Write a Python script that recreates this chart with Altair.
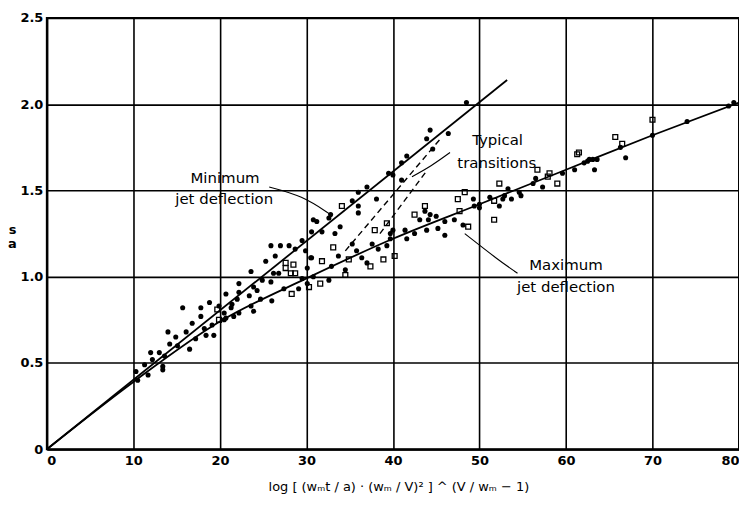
import altair as alt
import pandas as pd

# ---- data ----
filled_x = [10.3, 10.5, 11.3, 11.7, 12.0, 12.2, 13.0, 13.4, 13.4, 13.6, 14.0, 14.2, 14.9, 15.1, 15.7,
            16.1, 16.5, 16.8, 17.2, 17.8, 17.8, 18.2, 18.4, 18.8, 19.1, 19.3, 19.9, 20.5, 20.5, 20.7,
            20.7, 21.3, 21.4, 21.6, 22.0, 22.2, 22.2, 22.2, 23.4, 23.6, 23.6, 23.9, 23.9, 24.3, 24.7,
            24.9, 25.3, 25.9, 25.9, 26.0, 26.2, 26.4, 26.8, 27.0, 27.4, 28.0, 28.7, 29.1, 29.5, 29.5,
            29.9, 30.1, 30.1, 30.5, 30.6, 30.6, 30.8, 30.8, 31.2, 31.8, 32.6, 32.6, 32.8, 32.9, 33.3,
            33.7, 33.9, 34.5, 35.3, 35.3, 35.8, 36.0, 36.0, 36.0, 36.4, 37.0, 37.0, 37.6, 38.1, 38.3,
            39.3, 39.5, 39.7, 39.7, 40.0, 40.0, 41.0, 41.0, 41.4, 41.6, 41.6, 42.5, 43.1, 43.7, 43.9,
            43.9, 44.1, 44.3, 44.3, 44.6, 45.0, 45.2, 46.0, 46.0, 46.4, 47.1, 48.1, 48.5, 49.3, 49.4,
            50.0, 50.0, 51.2, 52.3, 52.7, 52.9, 53.3, 53.7, 54.6, 54.8, 56.2, 56.5, 57.3, 59.6, 61.0,
            62.1, 62.5, 62.7, 63.1, 63.3, 63.6, 66.3, 66.9, 70.0, 74.0, 78.8, 79.4]
filled_y = [0.45, 0.40, 0.49, 0.43, 0.56, 0.52, 0.56, 0.48, 0.46, 0.54, 0.68, 0.61, 0.65, 0.60, 0.82,
            0.68, 0.58, 0.73, 0.64, 0.82, 0.77, 0.70, 0.66, 0.85, 0.72, 0.66, 0.83, 0.79, 0.75, 0.90,
            0.76, 0.82, 0.84, 0.77, 0.87, 0.96, 0.91, 0.79, 0.89, 1.03, 0.83, 0.94, 0.80, 0.92, 0.87,
            0.98, 1.09, 1.18, 0.97, 0.86, 1.02, 1.12, 1.02, 1.18, 0.93, 1.18, 1.16, 0.93, 0.99, 1.21,
            1.15, 0.96, 1.05, 1.11, 1.26, 1.11, 1.00, 1.33, 1.32, 1.26, 1.34, 0.98, 1.36, 1.06, 1.25,
            1.12, 1.29, 1.04, 1.44, 1.19, 1.15, 1.41, 1.37, 1.49, 1.11, 1.52, 1.08, 1.19, 1.45, 1.16,
            1.18, 1.60, 1.25, 1.22, 1.27, 1.59, 1.66, 1.56, 1.27, 1.70, 1.22, 1.25, 1.33, 1.38, 1.80,
            1.27, 1.33, 1.85, 1.36, 1.74, 1.35, 1.28, 1.32, 1.24, 1.83, 1.33, 1.30, 2.01, 1.45, 1.41,
            1.40, 1.42, 1.46, 1.41, 1.45, 1.47, 1.51, 1.45, 1.49, 1.47, 1.54, 1.57, 1.52, 1.60, 1.62,
            1.66, 1.67, 1.68, 1.68, 1.62, 1.68, 1.75, 1.69, 1.82, 1.90, 1.99, 2.01]

open_x = [19.7, 19.9, 27.6, 27.6, 28.5, 28.2, 28.7, 28.3, 30.3, 31.6, 31.8, 33.1, 34.1, 34.5, 34.9,
          37.4, 37.9, 38.9, 39.3, 40.2, 42.5, 43.7, 47.5, 47.7, 48.3, 48.7, 51.7, 51.7, 52.3, 56.7,
          57.9, 58.1, 59.0, 61.3, 61.5, 65.7, 66.5, 70.0]
open_y = [0.81, 0.75, 1.08, 1.05, 1.07, 1.02, 1.02, 0.90, 0.94, 0.96, 1.09, 1.17, 1.41, 1.01, 1.10,
          1.06, 1.27, 1.10, 1.31, 1.12, 1.36, 1.41, 1.45, 1.38, 1.49, 1.29, 1.44, 1.33, 1.54, 1.62,
          1.58, 1.60, 1.54, 1.71, 1.72, 1.81, 1.77, 1.91]

# fitted curves
min_line_x = [0, 53.2]
min_line_y = [0, 2.14]
max_line_x = [0, 10, 20, 30, 40, 50, 60, 70, 80]
max_line_y = [0, 0.39, 0.74, 0.99, 1.22, 1.42, 1.62, 1.82, 2.01]

# typical transitions (dashed)
trans_x = [[34.5, 45.5], [38.5, 44.0]]
trans_y = [[1.15, 1.80], [1.25, 1.62]]

# leader lines for the labels
leader_x = [[25.7, 29.5, 32.8], [46.6, 44.4, 42.2], [54.4, 52.1, 48.3]]
leader_y = [[1.52, 1.47, 1.36], [1.72, 1.64, 1.58], [1.02, 1.10, 1.25]]

label_text = ["Minimum", "jet deflection", "Typical", "transitions", "Maximum", "jet deflection"]
label_x = [20.6, 20.5, 52.1, 52.0, 60.0, 60.0]
label_y = [1.57, 1.45, 1.79, 1.66, 1.07, 0.94]

x_ticks = [0, 10, 20, 30, 40, 50, 60, 70, 80]
y_ticks = [0, 0.5, 1.0, 1.5, 2.0, 2.5]

# ---- tables ----
df_filled = pd.DataFrame({"x": filled_x, "y": filled_y})
df_open = pd.DataFrame({"x": open_x, "y": open_y})
df_min = pd.DataFrame({"x": min_line_x, "y": min_line_y})
df_max = pd.DataFrame({"x": max_line_x, "y": max_line_y})
rows = []
for g, (xs, ys) in enumerate(zip(trans_x, trans_y)):
    for i, (a, b) in enumerate(zip(xs, ys)):
        rows.append({"x": a, "y": b, "g": g, "i": i})
df_trans = pd.DataFrame(rows)
rows = []
for g, (xs, ys) in enumerate(zip(leader_x, leader_y)):
    for i, (a, b) in enumerate(zip(xs, ys)):
        rows.append({"x": a, "y": b, "g": g, "i": i})
df_lead = pd.DataFrame(rows)
df_text = pd.DataFrame({"x": label_x, "y": label_y, "t": label_text})

FONT = "DejaVu Sans"

x_enc = alt.X(
    "x:Q",
    scale=alt.Scale(domain=[0, 80], nice=False, zero=False),
    axis=alt.Axis(
        values=x_ticks, ticks=False, grid=True, gridColor="black", gridWidth=1.6,
        gridOpacity=1, domainColor="black", domainWidth=2, labelFont=FONT,
        labelFontWeight="bold", labelFontSize=13, labelColor="black", labelPadding=5,
        labelFlush=True,
        title="log [ (wₘt / a) · (wₘ / V)² ]  ^ (V / wₘ − 1)",
        titleFont=FONT, titleFontSize=13, titleFontWeight="normal", titleColor="black",
        titleX=353, titleY=31, titleBaseline="top",
    ),
)
y_enc = alt.Y(
    "y:Q",
    scale=alt.Scale(domain=[0, 2.5], nice=False, zero=False),
    axis=alt.Axis(
        values=y_ticks, ticks=False, grid=True, gridColor="black", gridWidth=1.6,
        gridOpacity=1, domainColor="black", domainWidth=2, labelFont=FONT,
        labelFontWeight="bold", labelFontSize=13, labelColor="black", labelPadding=4,
        labelFlush=False,
        labelExpr="datum.value == 0 ? '0' : format(datum.value, '.1f')",
        title=["s", "a"], titleAngle=0, titleFont=FONT, titleFontSize=13,
        titleLineHeight=14,
        titleFontWeight="bold", titleColor="black", titleX=-35, titleY=212,
        titleAlign="center", titleBaseline="middle",
    ),
)

filled = alt.Chart(df_filled).mark_point(
    shape="circle", filled=True, color="black", size=26, opacity=1
).encode(x=x_enc, y=y_enc)

opens = alt.Chart(df_open).mark_point(
    shape="square", filled=False, color="black", size=24, strokeWidth=1.3, opacity=1
).encode(x=x_enc, y=y_enc)

min_line = alt.Chart(df_min).mark_line(color="black", strokeWidth=1.8).encode(x=x_enc, y=y_enc)
max_line = alt.Chart(df_max).mark_line(color="black", strokeWidth=1.8, interpolate="monotone").encode(
    x=x_enc, y=y_enc)

trans = alt.Chart(df_trans).mark_line(color="black", strokeWidth=1.4, strokeDash=[6, 4]).encode(
    x=x_enc, y=y_enc, detail="g:N", order="i:Q")

leaders = alt.Chart(df_lead).mark_line(color="black", strokeWidth=1.1, interpolate="basis").encode(
    x=x_enc, y=y_enc, detail="g:N", order="i:Q")

labels = alt.Chart(df_text).mark_text(
    font=FONT, fontSize=15, color="black", align="center", baseline="middle"
).encode(x=x_enc, y=y_enc, text="t:N")

chart = alt.layer(min_line, max_line, trans, leaders, filled, opens, labels).properties(
    width=695, height=433,
    autosize=alt.AutoSizeParams(type="none"),
    padding={"left": 39, "top": 9, "right": 0, "bottom": 50},
    background="white",
).configure_view(stroke="black", strokeWidth=2)

chart.save("out.html", embed_options={"renderer": "svg", "actions": False})
